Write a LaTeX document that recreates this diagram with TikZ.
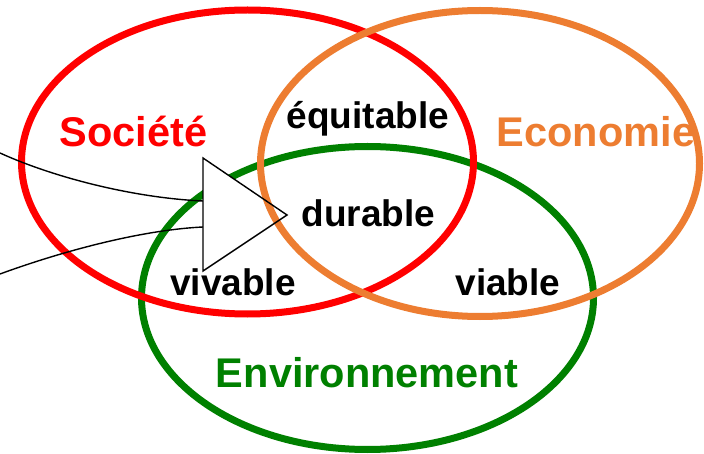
\documentclass[tikz,border=0pt]{standalone}
\usepackage{fontspec}
\setmainfont{Liberation Sans}
\definecolor{soc}{HTML}{FF0000}
\definecolor{eco}{HTML}{ED7D31}
\definecolor{env}{HTML}{008000}
\begin{document}
\begin{tikzpicture}[x=1pt,y=-1pt,
  ring/.style={line width=7pt},
  big/.style={font=\bfseries\fontsize{41.5}{41.5}\selectfont, anchor=base, inner sep=0pt},
  small/.style={font=\bfseries\fontsize{37}{37}\selectfont, anchor=base, inner sep=0pt, text=black},
  link/.style={line width=1.4pt, draw=black}]
\useasboundingbox (0,0) rectangle (704,454);
\fill[white] (0,0) rectangle (704,454);
% rings
\draw[ring, env] (367.5,298) ellipse [x radius=226pt, y radius=151.5pt];
\draw[ring, soc] (247.5,162) ellipse [x radius=226pt, y radius=152pt];
% connector ends and triangle
\coordinate (s1) at (0,153);
\coordinate (e1) at (203,201);
\coordinate (s2) at (0,274);
\coordinate (e2) at (203,227);
\coordinate (ta) at (203,158);
\coordinate (tb) at (203,271);
\coordinate (tc) at (287,215);
\draw[link] (s1) .. controls (55,178) and (135,198) .. (e1);
\draw[link] (s2) .. controls (60,252) and (140,230) .. (e2);
\fill[white] (ta) -- (tc) -- (tb) -- cycle;
\draw[ring, eco] (480,163.5) ellipse [x radius=219.5pt, y radius=153pt];
\draw[link, line join=miter] (ta) -- (tc) -- (tb) -- cycle;
% labels
\node[big, text=soc] (societe) at (133.5,147) {Société};
\node[big, text=eco] (economie) at (596,147) {Economie};
\node[big, text=env] (environnement) at (367,387) {Environnement};
\node[small] (equitable) at (368,129) {équitable};
\node[small] (durable) at (368.5,227) {durable};
\node[small] (vivable) at (233,295) {vivable};
\node[small] (viable) at (508,295) {viable};
\end{tikzpicture}
\end{document}
